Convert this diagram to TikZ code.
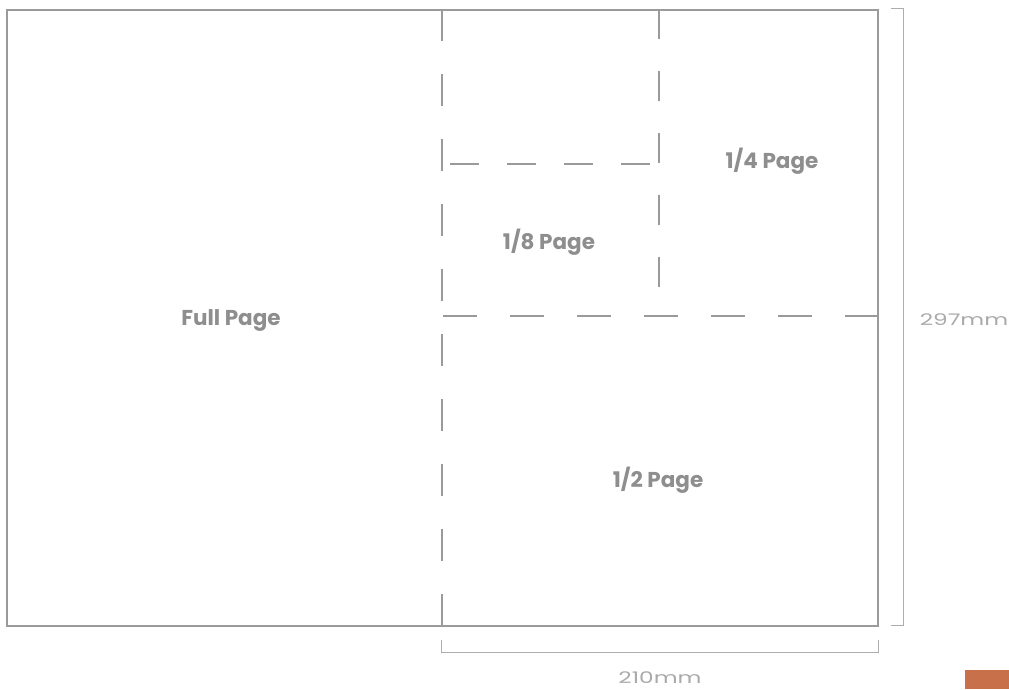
\documentclass[tikz,border=0pt]{standalone}
\usepackage{fontspec}
\usepackage{graphicx}
\setmainfont{Poppins}
\definecolor{linegray}{HTML}{9A9A9A}
\definecolor{textgray}{HTML}{8E8E8E}
\definecolor{dimgray}{HTML}{AAAAAA}
\definecolor{brackgray}{HTML}{ADADAD}
\definecolor{accent}{HTML}{C8704A}
\tikzset{
  pagebox/.style={draw=linegray, line width=2pt, inner sep=0pt},
  cutline/.style={draw=linegray, line width=1.6pt},
  sizelabel/.style={text=textgray, font=\bfseries\fontsize{21.5}{23}\selectfont, inner sep=0pt},
  dimlabel/.style={text=dimgray, font=\fontsize{16}{18}\selectfont, inner sep=0pt},
  bracket/.style={draw=brackgray, line width=1pt},
}
\begin{document}
\begin{tikzpicture}[x=1pt,y=-1pt]
\useasboundingbox (0,0) rectangle (1009,689);
% page outline
\node[pagebox, minimum width=871pt, minimum height=616pt, anchor=north west] (page) at (6,9) {};
% cut lines
\coordinate (v1top) at (442,9);
\coordinate (v1bot) at (442,626);
\coordinate (v2top) at (659,9);
\coordinate (v2bot) at (659,287);
\coordinate (h1l) at (450,164);
\coordinate (h1r) at (650,164);
\coordinate (h2l) at (443,316);
\coordinate (h2r) at (877,316);
\draw[cutline, dash pattern=on 32pt off 33pt] (v1top) -- (v1bot);
\draw[cutline, dash pattern=on 30pt off 32pt] (v2top) -- (v2bot);
\draw[cutline, dash pattern=on 29pt off 28pt] (h1l) -- (h1r);
\draw[cutline, dash pattern=on 34pt off 33pt] (h2l) -- (h2r);
% labels
\node[sizelabel] (full) at (231,320) {Full Page};
\node[sizelabel] (eighth) at (549,242) {1/8 Page};
\node[sizelabel] (quarter) at (772,161) {1/4 Page};
\node[sizelabel] (half) at (658,480) {1/2 Page};
% dimension brackets
\coordinate (rb1) at (891,8);
\coordinate (rb2) at (903,8);
\coordinate (rb3) at (903,625);
\coordinate (rb4) at (891,625);
\draw[bracket] (rb1) -- (rb2) -- (rb3) -- (rb4);
\coordinate (bb1) at (441,640);
\coordinate (bb2) at (441,652);
\coordinate (bb3) at (878,652);
\coordinate (bb4) at (878,640);
\draw[bracket] (bb1) -- (bb2) -- (bb3) -- (bb4);
\node[dimlabel] (height) at (964,320) {\scalebox{1.45}[1]{297mm}};
\node[dimlabel] (width) at (660,678) {\scalebox{1.45}[1]{210mm}};
% accent block
\node[fill=accent, minimum width=44pt, minimum height=19pt, inner sep=0pt, anchor=north west] (accentbox) at (965,670) {};
\end{tikzpicture}
\end{document}
